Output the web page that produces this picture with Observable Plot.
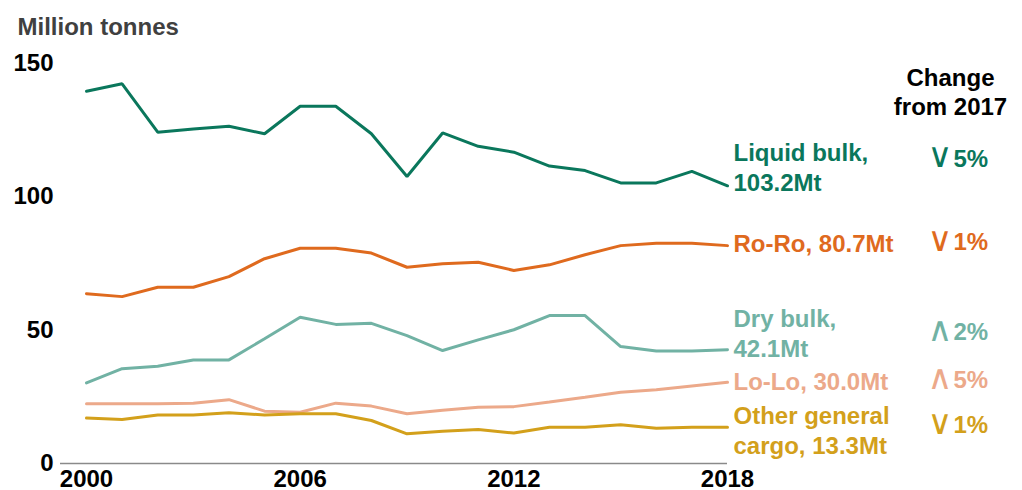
<!DOCTYPE html>
<html><head><meta charset="utf-8">
<script src="https://cdn.jsdelivr.net/npm/d3@7"></script>
<script src="https://cdn.jsdelivr.net/npm/@observablehq/plot@0.6"></script>
<style>body{margin:0;background:#fff}</style>
</head><body><div id="chart"></div>
<script>
const years = [2000,2001,2002,2003,2004,2005,2006,2007,2008,2009,2010,2011,2012,2013,2014,2015,2016,2017,2018];
const liquidBulk = [139.4,142.2,124.1,125.3,126.3,123.5,133.8,133.8,123.5,107.5,123.8,118.8,116.6,111.4,109.7,105.1,105.1,109.4,104.0];
const roRo       = [63.6,62.5,66.0,66.0,70.0,76.7,80.6,80.6,78.8,73.5,74.8,75.4,72.3,74.4,78.2,81.6,82.5,82.5,81.6];
const dryBulk    = [30.2,35.5,36.4,38.8,38.8,46.7,54.8,52.1,52.5,47.9,42.3,46.3,50.1,55.4,55.4,43.8,42.1,42.1,42.6];
const loLo       = [22.4,22.4,22.4,22.6,23.9,19.6,19.2,22.6,21.5,18.6,19.9,21.1,21.3,23.0,24.8,26.7,27.6,29.0,30.4];
const otherCargo = [17.0,16.5,18.2,18.2,19.0,18.2,18.6,18.6,16.1,11.1,12.1,12.7,11.4,13.6,13.6,14.5,13.2,13.6,13.6];

const seriesNames = ["Liquid bulk","Ro-Ro","Dry bulk","Lo-Lo","Other general cargo"];
const seriesLabels = ["Liquid bulk,\n103.2Mt","Ro-Ro, 80.7Mt","Dry bulk,\n42.1Mt","Lo-Lo, 30.0Mt","Other general\ncargo, 13.3Mt"];
const changeSymbols = ["\u2228","\u2228","\u2227","\u2227","\u2228"];
const changePercents = ["5%","1%","2%","5%","1%"];
const yTicks = [0,50,100,150];
const xTicks = [2000,2006,2012,2018];

// styles (not data)
const colors = ["#0a775c","#df6a1e","#71b2a4","#eca98a","#d3a01b"];
const labelDy = [-19,-3,-17,-2,2.5];
const changeDy = [-27,-3.5,-17.5,-2,-1.5];

const valuesBySeries = [liquidBulk, roRo, dryBulk, loLo, otherCargo];
const rows = [];
valuesBySeries.forEach((vals, i) => vals.forEach((v, j) => rows.push({series: seriesNames[i], year: years[j], value: v})));

const font = "Liberation Sans, Arial, Helvetica, sans-serif";
const marks = [
  Plot.ruleY([0], {stroke: "#8a8a8a", strokeWidth: 1.5}),
  Plot.axisY({ticks: yTicks, tickSize: 0, tickPadding: 7, label: null, fill: "#000"}),
  Plot.axisX({ticks: xTicks, tickSize: 0, tickPadding: 6, label: null, tickFormat: d => String(d), fill: "#000"}),
];
seriesNames.forEach((name, i) => {
  const data = rows.filter(r => r.series === name);
  const last = [data[data.length - 1]];
  marks.push(Plot.line(data, {x: "year", y: "value", stroke: colors[i], strokeWidth: 3, strokeLinejoin: "miter"}));
  marks.push(Plot.text(last, {x: "year", y: "value", text: () => seriesLabels[i], fill: colors[i], dx: 6, dy: labelDy[i], textAnchor: "start", lineAnchor: "middle", lineHeight: 1.25}));
  marks.push(Plot.text(last, {x: "year", y: "value", text: () => changeSymbols[i], fill: colors[i], dx: 200, dy: changeDy[i] - 2.5, textAnchor: "start", lineAnchor: "middle", fontFamily: "DejaVu Sans", fontWeight: "normal", fontSize: 34}));
  marks.push(Plot.text(last, {x: "year", y: "value", text: () => changePercents[i], fill: colors[i], dx: 226, dy: changeDy[i], textAnchor: "start", lineAnchor: "middle"}));
});
marks.push(Plot.text(["Change\nfrom 2017"], {frameAnchor: "top-right", dx: 223, dy: 28.5, textAnchor: "middle", lineAnchor: "middle", lineHeight: 1.2, fill: "#000"}));
marks.push(Plot.text(["Million tonnes"], {frameAnchor: "top-left", dx: -43, dy: -36, textAnchor: "start", lineAnchor: "middle", fill: "#404040"}));

const chart = Plot.plot({
  width: 1022,
  height: 490,
  marginLeft: 60,
  marginRight: 295,
  marginTop: 62.5,
  marginBottom: 27,
  x: {domain: [2000, 2018], insetLeft: 26},
  y: {domain: [0, 150]},
  style: {fontFamily: font, fontSize: "24px", fontWeight: "bold", background: "#fff", overflow: "visible"},
  marks
});
document.getElementById("chart").appendChild(chart);
</script>
</body></html>
